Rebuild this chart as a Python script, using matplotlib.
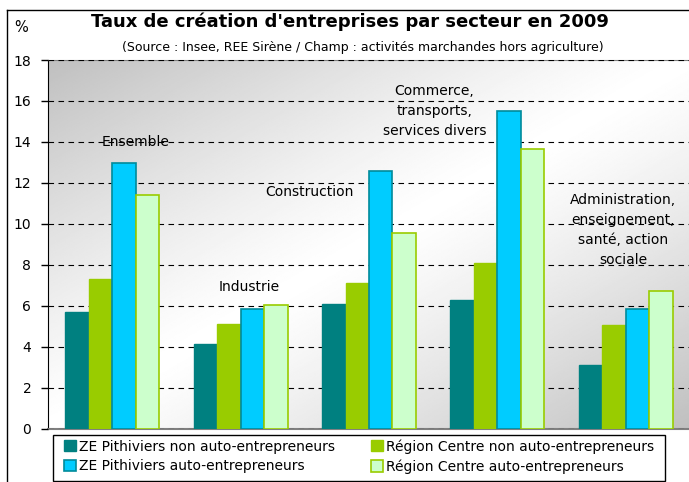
import numpy as np
import matplotlib.pyplot as plt
from matplotlib.lines import Line2D
from matplotlib.patches import Rectangle

plt.rcParams['font.family'] = ['DejaVu Sans']

# Data
sectors = ['Ensemble', 'Industrie', 'Construction',
           'Commerce,\ntransports,\nservices divers',
           'Administration,\nenseignement,\nsanté, action\nsociale']
ze_non_auto = [5.7, 4.15, 6.1, 6.3, 3.1]
region_non_auto = [7.3, 5.1, 7.1, 8.1, 5.05]
ze_auto = [12.95, 5.85, 12.6, 15.5, 5.85]
region_auto = [11.4, 6.05, 9.55, 13.65, 6.7]
series_names = ['ZE Pithiviers non auto-entrepreneurs',
                'Région Centre non auto-entrepreneurs',
                'ZE Pithiviers auto-entrepreneurs',
                'Région Centre auto-entrepreneurs']
yticks = list(range(0, 19, 2))

# label anchors (x in category units, y value)
label_pos = [(0.18, 14.0), (1.07, 6.9), (1.54, 11.55), (2.51, 15.5), (3.98, 9.7)]

fig = plt.figure(figsize=(6.89, 4.82), dpi=100)
ax = fig.add_axes([48 / 689, 1 - 428.5 / 482, 642 / 689, 368.5 / 482])

# gradient background: grey top-left -> white middle -> grey bottom-right
u = np.linspace(0, 1, 300)
v = np.linspace(0, 1, 300)
U, V = np.meshgrid(u, v)
t = (U + V) / 2
grey = 1 - 0.25 * np.abs(2 * t - 1) ** 1.2
ax.imshow(grey, cmap='gray', vmin=0, vmax=1, extent=[-0.5, 4.5, 0, 18], origin='upper',
          aspect='auto', zorder=0, interpolation='bilinear')

x = np.arange(len(sectors))
w = 0.183
ax.bar(x - 1.5 * w, ze_non_auto, w, color='#008080', edgecolor='#008080', zorder=3, label=series_names[0])
ax.bar(x - 0.5 * w, region_non_auto, w, color='#99CC00', edgecolor='#99CC00', zorder=3, label=series_names[1])
ax.bar(x + 0.5 * w, ze_auto, w, color='#00CCFF', edgecolor='#008B9B', linewidth=1.2, zorder=3, label=series_names[2])
ax.bar(x + 1.5 * w, region_auto, w, color='#CCFFCC', edgecolor='#99CC00', linewidth=1.2, zorder=3, label=series_names[3])

for name, (px, py) in zip(sectors, label_pos):
    ax.text(px, py, name, ha='center', va='center', fontsize=10, linespacing=1.56, zorder=4)

ax.set_xlim(-0.5, 4.5)
ax.set_ylim(0, 18)
ax.set_yticks(yticks)
ax.set_yticklabels([str(t) for t in yticks], fontsize=10)
ax.set_xticks([])
ax.tick_params(axis='y', direction='out', length=5, width=1, pad=7)
ax.yaxis.grid(True, color='black', linestyle=(0, (5, 4)), linewidth=0.8)
ax.set_axisbelow(False)
for gl in ax.get_ygridlines():
    gl.set_zorder(1)
ax.spines['left'].set_color('black')
ax.spines['bottom'].set_color('#808080')
ax.spines['bottom'].set_linewidth(1.5)
ax.spines['top'].set_color('#808080')
ax.spines['right'].set_visible(False)

# titles
fig.text(350 / 689, 1 - 22 / 482, "Taux de création d'entreprises par secteur en 2009",
         ha='center', va='center', fontsize=13, fontweight='bold')
fig.text(363 / 689, 1 - 47 / 482,
         "(Source : Insee, REE Sirène / Champ : activités marchandes hors agriculture)",
         ha='center', va='center', fontsize=9)
fig.text(21 / 689, 1 - 28 / 482, '%', ha='center', va='center', fontsize=10.5)

# outer frame
fig.add_artist(Line2D([7 / 689, 7 / 689], [1 - 10 / 482, 0], color='black', lw=1))
fig.add_artist(Line2D([7 / 689, 1], [1 - 10 / 482, 1 - 10 / 482], color='black', lw=1))

# legend box drawn separately so the entries can be placed freely
fig.add_artist(Rectangle((53 / 689, 1 - 480.5 / 482), 612 / 689, 45.5 / 482,
                         transform=fig.transFigure, facecolor='white',
                         edgecolor='black', linewidth=1, zorder=5))
handles, labels = ax.get_legend_handles_labels()
order = [0, 2, 1, 3]
leg = fig.legend([handles[i] for i in order], [labels[i] for i in order], ncol=2,
                 loc='center left', bbox_to_anchor=(64 / 689, 1 - 456.5 / 482),
                 fontsize=10, frameon=False, handlelength=0.85, handleheight=0.85,
                 handletextpad=0.25, borderaxespad=0, borderpad=0, labelspacing=0.4,
                 columnspacing=2.55)
leg.set_zorder(6)

fig.savefig('out.png', dpi=100)
